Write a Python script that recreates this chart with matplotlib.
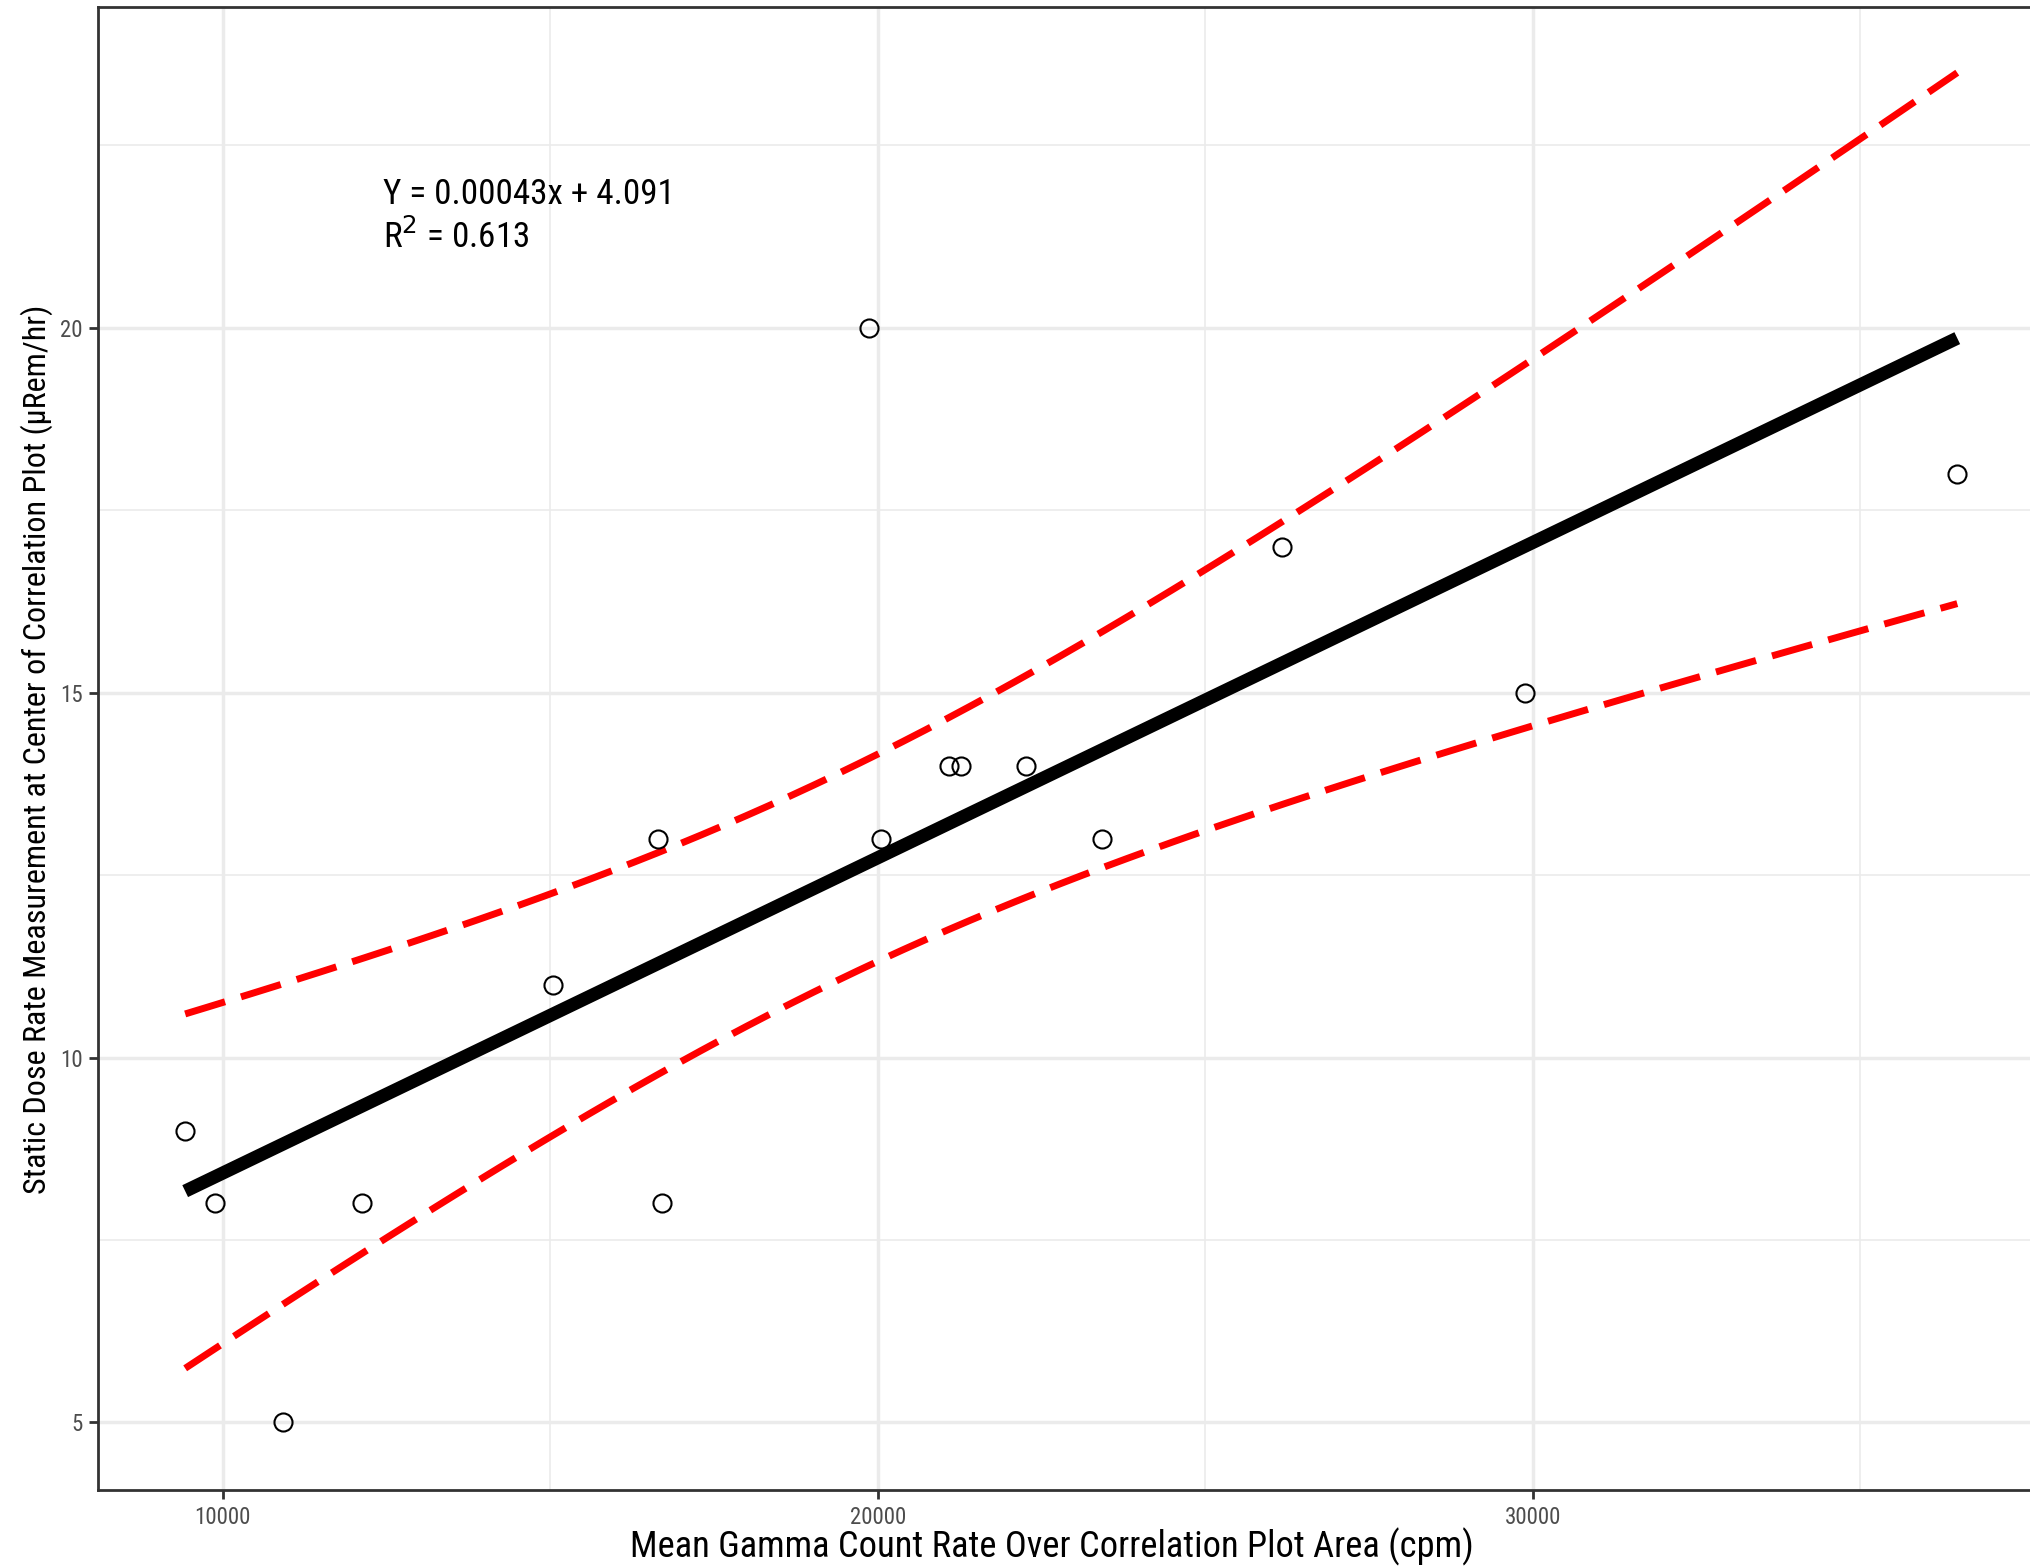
import numpy as np
import matplotlib
matplotlib.use('Agg')
import matplotlib.pyplot as plt
from matplotlib import font_manager

# the original uses a narrow Arial-like face; take one if the system has it
installed = set(f.name for f in font_manager.fontManager.ttflist)
narrow = [f for f in ['Liberation Sans Narrow', 'Arial Narrow', 'Roboto Condensed',
                      'Open Sans Condensed'] if f in installed]
plt.rcParams['font.family'] = narrow + ['Liberation Sans', 'DejaVu Sans']
scale = 1.0 if narrow else 0.83

# gamma count rate (cpm) vs static dose rate (uRem/hr)
gamma_cpm = [9425, 9881, 10912, 12121, 15035, 16640, 16700, 19871,
             20050, 21080, 21278, 22270, 23420, 26175, 29880, 36482]
dose_rate = [9, 8, 5, 8, 11, 13, 8, 20, 13, 14, 14, 14, 13, 17, 15, 18]

x_ticks = [10000, 20000, 30000]
y_ticks = [5, 10, 15, 20]

x = np.array(gamma_cpm, dtype=float)
y = np.array(dose_rate, dtype=float)
n = len(x)

# linear fit with 95% confidence band of the mean (like geom_smooth)
slope, intercept = np.polyfit(x, y, 1)
resid = y - (slope * x + intercept)
s = np.sqrt(np.sum(resid ** 2) / (n - 2))
sxx = np.sum((x - x.mean()) ** 2)
t_crit = 2.1448  # t(0.975, df=14)
r2 = 1 - np.sum(resid ** 2) / np.sum((y - y.mean()) ** 2)

x_fit = np.linspace(x.min(), x.max(), 80)
y_fit = slope * x_fit + intercept
se = s * np.sqrt(1.0 / n + (x_fit - x.mean()) ** 2 / sxx)
upper = y_fit + t_crit * se
lower = y_fit - t_crit * se

fig = plt.figure(figsize=(20.31, 15.66), dpi=100)
ax = fig.add_axes([98.4 / 2031, 1 - 1489.6 / 1566, 1 - 98.4 / 2031 + 0.002, (1489.6 - 6.5) / 1566])

ax.plot(x_fit, y_fit, color='black', linewidth=9.5, solid_capstyle='butt', zorder=3)
for band in (upper, lower):
    ax.plot(x_fit, band, color='red', linewidth=5, dashes=(6.0, 2.4),
            dash_capstyle='butt', zorder=3)
ax.plot(x, y, linestyle='none', marker='o', markersize=13, markerfacecolor='none',
        markeredgecolor='black', markeredgewidth=1.5, zorder=4)

ax.text(12450, 21.83, 'Y = %.5fx + %.3f' % (round(slope, 5), 4.091), fontsize=25.2 * scale,
        va='center', ha='left')
ax.text(12450, 21.24, r'R$^{2}$ = %.3f' % r2, fontsize=25.2 * scale, va='center', ha='left')

ax.set_xlim(8100, 37670)
ax.set_ylim(4.08, 24.4)
ax.set_xticks(x_ticks)
ax.set_yticks(y_ticks)
ax.set_xticks([15000, 25000, 35000], minor=True)
ax.set_yticks([7.5, 12.5, 17.5, 22.5], minor=True)
ax.grid(which='major', color='#EBEBEB', linewidth=2.5)
ax.grid(which='minor', color='#EBEBEB', linewidth=1.2)
ax.set_axisbelow(True)

for sp in ax.spines.values():
    sp.set_color('#333333')
    sp.set_linewidth(2)
ax.spines['right'].set_visible(False)

ax.tick_params(which='major', length=6.5, width=2, color='#333333',
               labelcolor='#4D4D4D', labelsize=16.5 * scale, pad=5)
ax.tick_params(which='minor', length=0)

fig.text(1052 / 2031, 1 - 1547 / 1566, 'Mean Gamma Count Rate Over Correlation Plot Area (cpm)',
         fontsize=26.3 * scale, ha='center', va='center')
fig.text(37 / 2031, 1 - 749 / 1566,
         'Static Dose Rate Measurement at Center of Correlation Plot (µRem/hr)',
         fontsize=23.1 * scale, rotation=90, ha='center', va='center')

fig.savefig('out.png', dpi=100)
